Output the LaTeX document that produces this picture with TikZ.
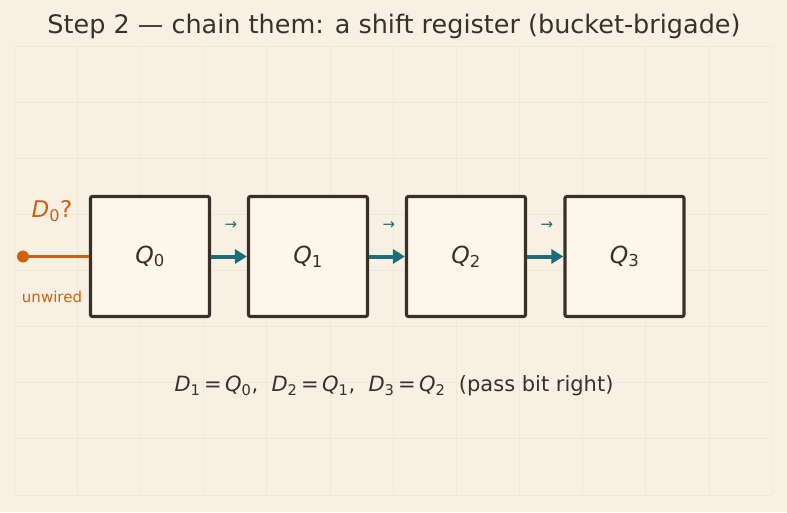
\documentclass[tikz,border=0pt]{standalone}
\usepackage{fontspec}
\setmainfont{DejaVu Sans}
\usetikzlibrary{arrows.meta}

\definecolor{paper}{HTML}{F8F1E3}
\definecolor{gridcol}{HTML}{F0E8D8}
\definecolor{boxfill}{HTML}{FDF6EA}
\definecolor{ink}{HTML}{3A302A}
\definecolor{wirecol}{HTML}{1C6E7A}
\definecolor{opencol}{HTML}{D2600F}

\newcommand{\sig}[2]{\textit{#1}\textsubscript{#2}}

\tikzset{
    reg/.style={draw=ink, fill=boxfill, line width=3.2pt, rounded corners=2pt,
        minimum width=119pt, minimum height=120pt, inner sep=0pt,
        text=ink, font=\fontsize{23.5}{26}\selectfont},
    shiftarrow/.style={-{Triangle[length=12pt,width=14pt]}, draw=wirecol, line width=4pt},
    hint/.style={text=wirecol, font=\fontsize{15}{16}\selectfont},
    openwire/.style={draw=opencol, line width=3.6pt},
    opendot/.style={circle, fill=opencol, inner sep=0pt, minimum size=12pt},
}

\begin{document}
\begin{tikzpicture}[x=1pt, y=-1pt]
            % background and faint grid
            \fill[paper] (0,0) rectangle (787,512);
            \foreach \i in {0,...,12}
                \draw[gridcol, line width=0.6pt] (14+\i*63.17,46) -- (14+\i*63.17,495);
            \foreach \j in {0,...,8}
                \draw[gridcol, line width=0.6pt] (14,46+\j*56.1) -- (772,46+\j*56.1);

            \node[text=ink, font=\fontsize{25.5}{28}\selectfont] (title) at (394,26)
                {Step 2 — chain them: a shift register (bucket-brigade)};

            \node[reg] (Q0) at (150,256.5) {\sig{Q}{0}};
            \node[reg] (Q1) at (308,256.5) {\sig{Q}{1}};
            \node[reg] (Q2) at (466,256.5) {\sig{Q}{2}};
            \node[reg] (Q3) at (624.5,256.5) {\sig{Q}{3}};

            \draw[shiftarrow] (Q0.east) -- (Q1.west);
            \draw[shiftarrow] (Q1.east) -- (Q2.west);
            \draw[shiftarrow] (Q2.east) -- (Q3.west);
            \node[hint] (h01) at (231,226) {→};
            \node[hint] (h12) at (389,226) {→};
            \node[hint] (h23) at (547,226) {→};

            % dangling input of the first stage
            \node[opendot] (src) at (23,256.5) {};
            \draw[openwire] (src) -- (Q0.west);
            \node[text=opencol, font=\fontsize{23}{26}\selectfont] (d0) at (52,211) {\sig{D}{0}?};
            \node[text=opencol, font=\fontsize{15}{18}\selectfont] (unw) at (52,297) {unwired};

            \node[text=ink, font=\fontsize{21}{24}\selectfont] (eqn) at (394,386)
                {\sig{D}{1}\,=\,\sig{Q}{0}, \ \sig{D}{2}\,=\,\sig{Q}{1}, \ \sig{D}{3}\,=\,\sig{Q}{2} \ (pass bit right)};
        \end{tikzpicture}
\end{document}
